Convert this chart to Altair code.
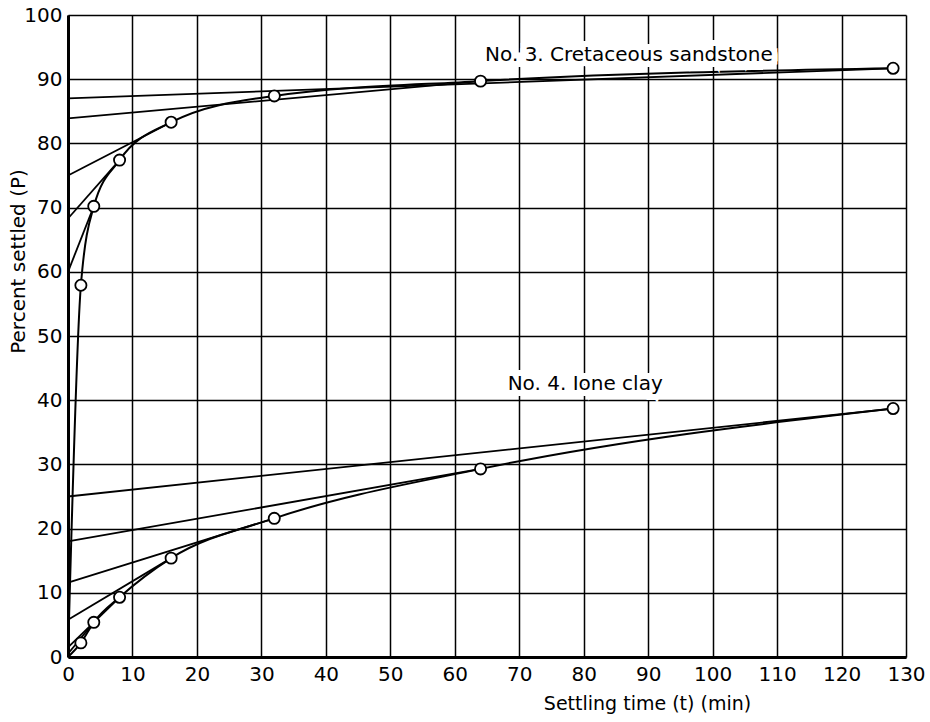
import altair as alt
import pandas as pd

# Observed data (settling time in min, percent settled)
t_vals = [2, 4, 8, 16, 32, 64, 128]
sand_P = [57.9, 70.2, 77.4, 83.3, 87.4, 89.7, 91.7]
clay_P = [2.2, 5.4, 9.3, 15.4, 21.6, 29.3, 38.7]

# Construction lines: y-intercept and the observed time where each line meets the curve
sand_intercepts = [60.0, 68.3, 75.0, 83.9, 87.0]
sand_end_t = [4, 8, 16, 64, 128]
clay_intercepts = [25.0, 18.0, 11.6, 5.8, 1.5, 0.5]
clay_end_t = [128, 64, 32, 16, 8, 4]

labels = ["No. 3. Cretaceous sandstone", "No. 4. Ione clay"]
label_t = [64.7, 68.2]
label_P = [93.8, 42.5]

x_ticks = list(range(0, 131, 10))
y_ticks = list(range(0, 101, 10))

FONT = "DejaVu Sans"

# tables
pts = pd.DataFrame(
    [{"series": "sand", "t": t, "P": p} for t, p in zip(t_vals, sand_P)]
    + [{"series": "clay", "t": t, "P": p} for t, p in zip(t_vals, clay_P)]
)
curve = pd.DataFrame(
    [{"series": "sand", "t": 0, "P": 0}]
    + [{"series": "sand", "t": t, "P": p} for t, p in zip(t_vals, sand_P)]
    + [{"series": "clay", "t": 0, "P": 0}]
    + [{"series": "clay", "t": t, "P": p} for t, p in zip(t_vals, clay_P)]
)
sand_map = dict(zip(t_vals, sand_P))
clay_map = dict(zip(t_vals, clay_P))
rows = []
for i, (b, te) in enumerate(zip(sand_intercepts, sand_end_t)):
    rows.append({"id": f"s{i}", "t": 0, "P": b})
    rows.append({"id": f"s{i}", "t": te, "P": sand_map[te]})
for i, (b, te) in enumerate(zip(clay_intercepts, clay_end_t)):
    rows.append({"id": f"c{i}", "t": 0, "P": b})
    rows.append({"id": f"c{i}", "t": te, "P": clay_map[te]})
lines = pd.DataFrame(rows)
txt = pd.DataFrame({"label": labels, "t": label_t, "P": label_P})

xscale = alt.Scale(domain=[0, 130], nice=False, zero=False)
yscale = alt.Scale(domain=[0, 100], nice=False, zero=False)

x_axis = alt.Axis(
    values=x_ticks, grid=True, gridColor="black", gridWidth=1.5, gridOpacity=1,
    domainColor="black", domainWidth=3, ticks=False, labelPadding=7,
    labelFont=FONT, labelFontSize=20, labelColor="black", labelFlush=False,
    titleFont=FONT, titleFontSize=19,
    titleFontWeight="normal", titleColor="black",
    titleX=579, titleY=37, titleAlign="center", titleBaseline="top",
)
y_axis = alt.Axis(
    values=y_ticks, grid=True, gridColor="black", gridWidth=1.5, gridOpacity=1,
    domainColor="black", domainWidth=3, ticks=False, labelPadding=6,
    labelFont=FONT, labelFontSize=20, labelColor="black", labelFlush=False,
    titleFont=FONT, titleFontSize=20,
    titleFontWeight="normal", titleColor="black",
    titleX=-50, titleY=246, titleAngle=270, titleAlign="center", titleBaseline="middle",
)

X = alt.X("t:Q", scale=xscale, axis=x_axis, title="Settling time (t) (min)")
Y = alt.Y("P:Q", scale=yscale, axis=y_axis, title="Percent settled (P)")

construct = alt.Chart(lines).mark_line(color="black", strokeWidth=1.8).encode(
    x=X, y=Y, detail="id:N",
)
curves = alt.Chart(curve).mark_line(color="black", strokeWidth=2, interpolate="monotone").encode(
    x=X, y=Y, detail="series:N", order="t:Q",
)
points = alt.Chart(pts).mark_point(
    shape="circle", filled=True, fill="white", stroke="black", strokeWidth=1.8, size=125, opacity=1
).encode(x=X, y=Y)
halo = alt.Chart(txt).mark_text(
    font=FONT, fontSize=20, color="white", stroke="white", strokeWidth=12,
    align="left", baseline="middle"
).encode(x=X, y=Y, text="label:N")
texts = alt.Chart(txt).mark_text(
    font=FONT, fontSize=20, color="black", align="left", baseline="middle"
).encode(x=X, y=Y, text="label:N")

chart = alt.layer(construct, curves, points, halo, texts).properties(
    width=838, height=642,
    autosize=alt.AutoSizeParams(type="none"),
    padding={"left": 68, "top": 15, "right": 24, "bottom": 65},
    background="white",
).configure_view(stroke=None)

chart.save("out.html", embed_options={"renderer": "svg", "actions": False})
